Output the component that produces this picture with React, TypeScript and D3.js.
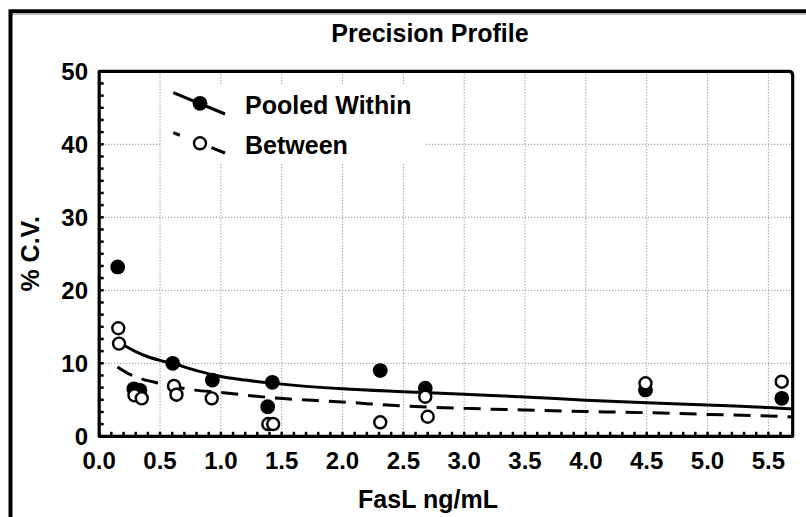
import React from "react";
import * as d3 from "d3";

const title = "Precision Profile";
const xTitle = "FasL ng/mL";
const yTitle = "% C.V.";
const seriesNames = ["Pooled Within", "Between"];

const xTicks = [0, 0.5, 1, 1.5, 2, 2.5, 3, 3.5, 4, 4.5, 5, 5.5];
const yTicks = [0, 10, 20, 30, 40, 50];

const pooledX = [0.152, 0.285, 0.335, 0.604, 0.93, 1.385, 1.423, 2.31, 2.68, 4.49, 5.61];
const pooledY = [23.2, 6.5, 6.3, 10.0, 7.7, 4.05, 7.4, 9.0, 6.6, 6.35, 5.2];

const betweenX = [0.157, 0.163, 0.29, 0.35, 0.615, 0.635, 0.925, 1.39, 1.43, 2.31, 2.68, 2.7, 4.49, 5.61];
const betweenY = [14.8, 12.7, 5.6, 5.2, 6.9, 5.7, 5.2, 1.68, 1.68, 1.92, 5.42, 2.68, 7.26, 7.48];

const pooledFitX = [0.15, 0.2, 0.3, 0.4, 0.5, 0.6, 0.8, 1.0, 1.2, 1.44, 2.0, 2.5, 3.0, 3.5, 4.0, 4.5, 5.0, 5.5, 5.7];
const pooledFitY = [13.0, 12.5, 11.6, 10.9, 10.4, 10.0, 9.0, 8.2, 7.7, 7.25, 6.5, 6.1, 5.75, 5.4, 4.95, 4.6, 4.3, 3.95, 3.75];

const betweenFitX = [0.15, 0.25, 0.36, 0.5, 0.62, 0.75, 1.0, 1.44, 2.0, 2.5, 3.0, 3.5, 4.0, 4.5, 5.0, 5.5, 5.7];
const betweenFitY = [9.5, 8.5, 7.8, 7.25, 6.8, 6.4, 6.0, 5.25, 4.7, 4.15, 3.83, 3.6, 3.4, 3.23, 3.0, 2.78, 2.65];

const FONT = "'Liberation Sans', Arial, Helvetica, sans-serif";

export default function App() {
  const W = 806, H = 517;
  const left = 99.2, right = 792.7, top = 71.3, bottom = 436.3;
  const x = d3.scaleLinear().domain([0, 5.7]).range([left, right]);
  const y = d3.scaleLinear().domain([0, 50]).range([bottom, top]);

  const line = d3
    .line<[number, number]>()
    .x((d) => x(d[0]))
    .y((d) => y(d[1]))
    .curve(d3.curveMonotoneX);

  const pooledFit: [number, number][] = pooledFitX.map((v, i) => [v, pooledFitY[i]]);
  const betweenFit: [number, number][] = betweenFitX.map((v, i) => [v, betweenFitY[i]]);

  const xMinor = d3.range(0, 5.7001, 0.1);
  const yMinor = d3.range(0, 50.001, 10 / 6);

  const r = 6;
  const plotPath = `M${left},${bottom} L${left},${top} L${right - 4},${top} Q${right},${top} ${right},${top + 4} L${right},${bottom} Z`;

  return (
    <svg width={W} height={H} style={{ position: "absolute", left: 0, top: 0, background: "#fff" }}>
      <rect x={0} y={0} width={W} height={H} fill="#fff" />
      {/* outer frame */}
      <line x1={10.5} y1={14.6} x2={W} y2={14.6} stroke="#bbb" strokeWidth={1} />
      <rect x={10.5} y={11.3} width={900} height={700} fill="none" stroke="#000" strokeWidth={4} />

      <text x={430} y={42.3} textAnchor="middle" fontFamily={FONT} fontWeight="bold" fontSize={25}>
        {title}
      </text>

      {/* grid */}
      {xTicks.filter((t) => t > 0).map((t) => (
        <line key={"gx" + t} x1={x(t)} x2={x(t)} y1={top} y2={bottom} stroke="#777" strokeWidth={1} strokeDasharray="1 2" />
      ))}
      {yTicks.filter((t) => t > 0 && t < 50).map((t) => (
        <line key={"gy" + t} x1={left} x2={right} y1={y(t)} y2={y(t)} stroke="#777" strokeWidth={1} strokeDasharray="1 2" />
      ))}

      {/* legend background */}
      <rect x={161} y={84} width={265} height={80} fill="#fff" />

      {/* minor ticks */}
      {xMinor.map((t, i) => (
        <line key={"xm" + i} x1={x(t)} x2={x(t)} y1={bottom} y2={bottom - 4.5} stroke="#000" strokeWidth={2.5} />
      ))}
      {yMinor.map((t, i) => (
        <line key={"ym" + i} x1={left} x2={left + 4.5} y1={y(t)} y2={y(t)} stroke="#000" strokeWidth={2.5} />
      ))}

      {/* fit lines */}
      <path d={line(pooledFit) || ""} fill="none" stroke="#000" strokeWidth={3} />
      <path d={line(betweenFit) || ""} fill="none" stroke="#000" strokeWidth={3} strokeDasharray="17 10" />

      {/* points */}
      {pooledX.map((v, i) => (
        <circle key={"p" + i} cx={x(v)} cy={y(pooledY[i])} r={7.4} fill="#000" />
      ))}
      {betweenX.map((v, i) => (
        <circle key={"b" + i} cx={x(v)} cy={y(betweenY[i])} r={r} fill="#fff" stroke="#000" strokeWidth={2.4} />
      ))}

      {/* plot frame */}
      <path d={plotPath} fill="none" stroke="#000" strokeWidth={3.2} strokeLinejoin="round" />

      {/* tick labels */}
      {yTicks.map((t) => (
        <text key={"yl" + t} x={88} y={y(t) + 8.6} textAnchor="end" fontFamily={FONT} fontWeight="bold" fontSize={24}>
          {t}
        </text>
      ))}
      {xTicks.map((t) => (
        <text key={"xl" + t} x={x(t)} y={469.3} textAnchor="middle" fontFamily={FONT} fontWeight="bold" fontSize={24}>
          {t.toFixed(1)}
        </text>
      ))}

      {/* axis titles */}
      <text x={428} y={508} textAnchor="middle" fontFamily={FONT} fontWeight="bold" fontSize={25}>
        {xTitle}
      </text>
      <text
        transform={`translate(39, ${(top + bottom) / 2}) rotate(-90)`}
        textAnchor="middle"
        fontFamily={FONT}
        fontWeight="bold"
        fontSize={25}
      >
        {yTitle}
      </text>

      {/* legend */}
      <line x1={173.3} y1={92.7} x2={225} y2={114} stroke="#000" strokeWidth={3} />
      <circle cx={200} cy={103.3} r={7.4} fill="#000" />
      <text x={245} y={114} fontFamily={FONT} fontWeight="bold" fontSize={25}>
        {seriesNames[0]}
      </text>
      <line x1={173.3} y1={132.7} x2={225} y2={153} stroke="#000" strokeWidth={3} strokeDasharray="7 34 15" />
      <circle cx={200} cy={143.3} r={r} fill="#fff" stroke="#000" strokeWidth={2.4} />
      <text x={245} y={154} fontFamily={FONT} fontWeight="bold" fontSize={25}>
        {seriesNames[1]}
      </text>
    </svg>
  );
}
